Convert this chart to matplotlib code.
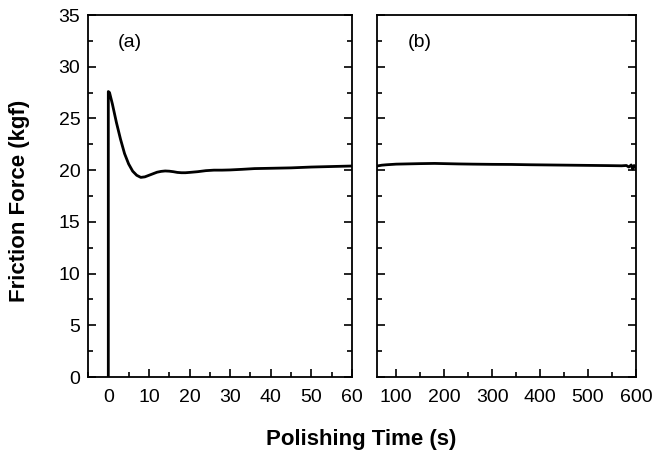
import matplotlib
matplotlib.use("Agg")
import matplotlib.pyplot as plt
from matplotlib.ticker import MultipleLocator

plt.rcParams['font.family'] = ['Liberation Sans', 'DejaVu Sans']

# Panel (a): first 60 s
t_a = [0, 0, 0.3, 1, 2, 3, 4, 5, 6, 7, 8, 9, 10, 11, 12, 13, 14, 15, 16, 17, 18, 19, 20,
       22, 24, 26, 28, 30, 33, 36, 40, 45, 50, 55, 60]
f_a = [0, 27.6, 27.5, 26.4, 24.6, 23.0, 21.6, 20.6, 19.9, 19.5, 19.3, 19.35, 19.5, 19.65,
       19.8, 19.88, 19.92, 19.9, 19.85, 19.78, 19.75, 19.75, 19.78,
       19.85, 19.95, 20.0, 20.0, 20.02, 20.08, 20.15, 20.18, 20.22, 20.3, 20.35, 20.4]

# Panel (b): 60-600 s
t_b = [60, 70, 80, 100, 120, 150, 180, 200, 230, 260, 300, 340, 380, 420, 460, 500, 540,
       570, 580, 585, 590, 593, 596, 600]
f_b = [20.4, 20.48, 20.52, 20.58, 20.6, 20.63, 20.65, 20.63, 20.6, 20.58, 20.56, 20.55,
       20.52, 20.5, 20.48, 20.46, 20.44, 20.42, 20.45, 20.3, 20.5, 20.1, 20.45, 20.2]

fig = plt.figure(figsize=(6.54, 4.55), dpi=100)
ax1 = fig.add_axes([88/654, 1-377/455, (352-88)/654, (377-15)/455])
ax2 = fig.add_axes([377/654, 1-377/455, (636-377)/654, (377-15)/455])

ax1.plot(t_a, f_a, color='black', lw=2.0)
ax2.plot(t_b, f_b, color='black', lw=2.0)

ax1.set_xlim(-5, 60)
ax2.set_xlim(60, 600)
for ax in (ax1, ax2):
    ax.set_ylim(0, 35)
    ax.yaxis.set_major_locator(MultipleLocator(5))
    ax.yaxis.set_minor_locator(MultipleLocator(2.5))
    ax.tick_params(which='both', direction='in', top=False, right=True, left=True,
                   labelsize=14, width=1.2)
    ax.tick_params(which='major', length=6)
    ax.tick_params(which='minor', length=3.5)
    ax.tick_params(axis='x', which='major', pad=9)
    ax.tick_params(axis='y', which='major', pad=5.5)
    for s in ax.spines.values():
        s.set_linewidth(1.3)

ax1.xaxis.set_major_locator(MultipleLocator(10))
ax1.xaxis.set_minor_locator(MultipleLocator(5))
ax2.xaxis.set_major_locator(MultipleLocator(100))
ax2.xaxis.set_minor_locator(MultipleLocator(50))
ax2.set_xticks([100, 200, 300, 400, 500, 600])
ax2.tick_params(labelleft=False)

ax1.text(0.112, 0.925, '(a)', transform=ax1.transAxes, fontsize=14, va='center')
ax2.text(0.118, 0.925, '(b)', transform=ax2.transAxes, fontsize=14, va='center')

fig.text(20/654, 1-201/455, 'Friction Force (kgf)', rotation=90, fontsize=16,
         fontweight='bold', ha='center', va='center')
fig.text(361/654, 1-440/455, 'Polishing Time (s)', fontsize=16,
         fontweight='bold', ha='center', va='center')

fig.savefig('out.png', dpi=100)
